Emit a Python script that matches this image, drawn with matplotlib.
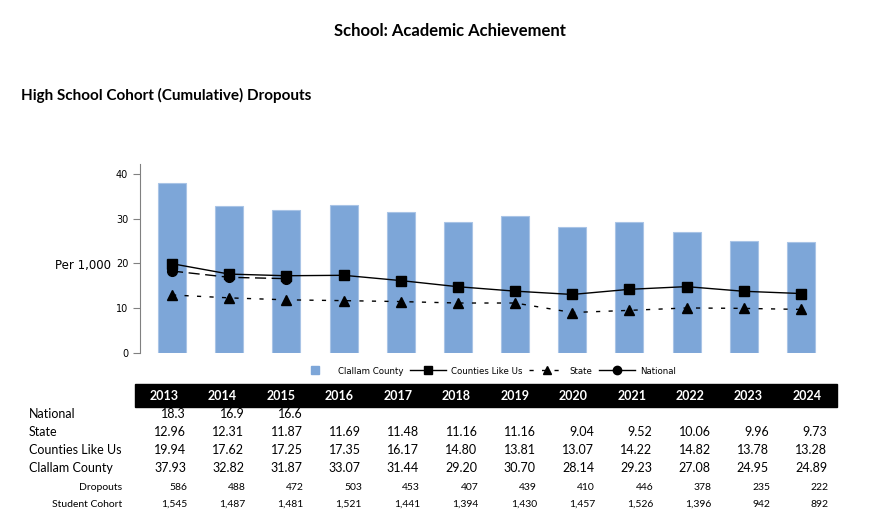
import numpy as np
import matplotlib
matplotlib.use("Agg")
import matplotlib.pyplot as plt
from matplotlib.patches import Rectangle
from matplotlib.lines import Line2D

years = [2013, 2014, 2015, 2016, 2017, 2018, 2019, 2020, 2021, 2022, 2023, 2024]
national = [18.3, 16.9, 16.6]
state = [12.96, 12.31, 11.87, 11.69, 11.48, 11.16, 11.16, 9.04, 9.52, 10.06, 9.96, 9.73]
counties = [19.94, 17.62, 17.25, 17.35, 16.17, 14.80, 13.81, 13.07, 14.22, 14.82, 13.78, 13.28]
clallam = [37.93, 32.82, 31.87, 33.07, 31.44, 29.20, 30.70, 28.14, 29.23, 27.08, 24.95, 24.89]
dropouts = [586, 488, 472, 503, 453, 407, 439, 410, 446, 378, 235, 222]
cohort = [1545, 1487, 1481, 1521, 1441, 1394, 1430, 1457, 1526, 1396, 942, 892]

W, H = 896, 523
fig = plt.figure(figsize=(W / 100, H / 100), dpi=100)

def fx(x):
    return x / W

def fy(y):
    return 1 - y / H

head_font = "Lato"
chart_font = "DejaVu Sans"
bar_color = "#7da6d8"

fig.text(fx(450), fy(36), "School: Academic Achievement", ha="center", va="baseline",
         fontsize=12, fontweight="bold", family=head_font)
fig.text(fx(21), fy(100), "High School Cohort (Cumulative) Dropouts", ha="left", va="baseline",
         fontsize=11, fontweight="bold", family=head_font)

# chart area
ax = fig.add_axes([fx(140), fy(353), fx(833) - fx(140), (353 - 164) / H])
x = np.arange(len(years))
ax.bar(x, clallam, width=0.49, color=bar_color, edgecolor="#a9c4e6", linewidth=0.8, zorder=1)
ax.plot(x, counties, color="black", linewidth=1.0, marker="s", markersize=7, zorder=3)
ax.plot(x, state, color="black", linewidth=1.0, linestyle=(0, (3, 6)), marker="^",
        markersize=7, zorder=3)
ax.plot(x[:len(national)], national, color="black", linewidth=1.0, linestyle=(0, (8, 4)),
        marker="o", markersize=7, zorder=3)

ax.set_xlim(-0.56, len(years) - 0.44)
ax.set_ylim(0, 42.2)
ax.set_yticks([0, 10, 20, 30, 40])
ax.set_xticks([])
for s in ["top", "right", "bottom"]:
    ax.spines[s].set_visible(False)
ax.spines["left"].set_color("#808080")
ax.tick_params(axis="y", colors="#808080", labelcolor="black", labelsize=7, length=5, width=0.8)
for lab in ax.get_yticklabels():
    lab.set_family(chart_font)
fig.text(fx(83), fy(265), "Per 1,000", ha="center", va="center", fontsize=8.5, family=chart_font)

# legend
handles = [
    Line2D([], [], linestyle="none", marker="s", markersize=6, color=bar_color),
    Line2D([], [], color="black", linewidth=1.0, marker="s", markersize=6),
    Line2D([], [], color="black", linewidth=1.0, linestyle=(0, (3, 6)), marker="^", markersize=6),
    Line2D([], [], color="black", linewidth=1.0, marker="o", markersize=6),
]
ax.legend(handles, ["Clallam County", "Counties Like Us", "State", "National"],
          loc="center", bbox_to_anchor=(0.5, (353 - 371) / (353 - 164)), ncol=4,
          frameon=False, handlelength=4.2, columnspacing=0.8, handletextpad=0.5,
          prop={"family": chart_font, "size": 6.2})

# data table
fig.patches.append(Rectangle((fx(135), fy(407)), fx(837) - fx(135), (407 - 384) / H,
                             transform=fig.transFigure, color="black", zorder=0))
for i, yr in enumerate(years):
    cx = 164 + 58.45 * i
    fig.text(fx(cx), fy(400), str(yr), ha="center", va="baseline", color="white",
             fontsize=9, fontweight="bold", family=head_font)

rows = [("National", national, 418, "{:.1f}"),
        ("State", state, 436, "{:.2f}"),
        ("Counties Like Us", counties, 454, "{:.2f}"),
        ("Clallam County", clallam, 472, "{:.2f}")]
for name, vals, yy, fmt in rows:
    fig.text(fx(29), fy(yy), name, ha="left", va="baseline", fontsize=9, family=head_font)
    for i, v in enumerate(vals):
        fig.text(fx(186 + 58.3 * i), fy(yy), fmt.format(v), ha="right", va="baseline",
                 fontsize=9, family=head_font)

small_rows = [("Dropouts", dropouts, 490), ("Student Cohort", cohort, 507)]
for name, vals, yy in small_rows:
    fig.text(fx(122), fy(yy), name, ha="right", va="baseline", fontsize=7.5, family=head_font)
    for i, v in enumerate(vals):
        fig.text(fx(187 + 58.3 * i), fy(yy), f"{v:,}", ha="right", va="baseline",
                 fontsize=7.5, family=head_font)

fig.savefig("out.png", dpi=100)
